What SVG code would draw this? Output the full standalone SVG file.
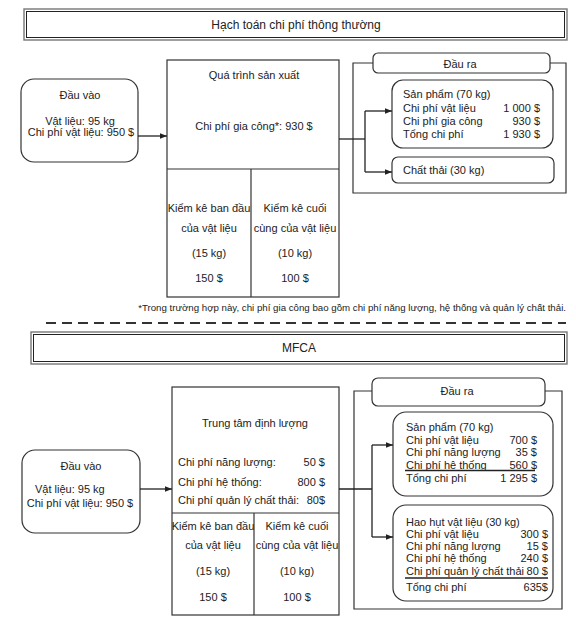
<svg xmlns="http://www.w3.org/2000/svg" width="576" height="626" viewBox="0 0 576 626">
<style>
text{font-family:"Liberation Sans",Arial,sans-serif;font-size:11px;fill:#222}
.c{text-anchor:middle}
.e{text-anchor:end}
.t{font-size:12px}
.fn{font-size:9.7px}
.box{fill:none;stroke:#333;stroke-width:1.2}
.outer{fill:none;stroke:#777;stroke-width:1.4}
.inner{fill:none;stroke:#222;stroke-width:1}
.ln{fill:none;stroke:#222;stroke-width:1.3}
</style>
<defs>
<marker id="ar" viewBox="0 0 10 10" refX="10" refY="5" markerWidth="7" markerHeight="7" markerUnits="userSpaceOnUse" orient="auto">
<path d="M0,1 L10,5 L0,9 z" fill="#222"/>
</marker>
</defs>
<rect width="576" height="626" fill="#fff"/>

<g id="title-conventional">
<rect class="outer" x="24" y="9" width="543" height="31"/>
<rect class="inner" x="26.5" y="11.5" width="538" height="26"/>
<text class="c t" x="296" y="29">Hạch toán chi phí thông thường</text>
</g>

<g id="input-top">
<rect class="box" x="21" y="79" width="117" height="83" rx="13"/>
<text class="c" x="80" y="99">Đầu vào</text>
<text class="c" x="80" y="125">Vật liệu: 95 kg</text>
<text class="c" x="81" y="136">Chi phí vật liệu: 950 $</text>
</g>

<g id="process-top">
<rect class="box" x="167" y="60" width="172" height="237"/>
<line class="box" x1="167" y1="169" x2="339" y2="169"/>
<line class="box" x1="251" y1="169" x2="251" y2="297"/>
<text class="c" x="254" y="79">Quá trình sản xuất</text>
<text class="c" x="254" y="130">Chi phí gia công*: 930 $</text>
<text class="c" x="209" y="212">Kiểm kê ban đầu</text>
<text class="c" x="209" y="232">của vật liệu</text>
<text class="c" x="209" y="257">(15 kg)</text>
<text class="c" x="209" y="282">150 $</text>
<text class="c" x="295" y="212">Kiểm kê cuối</text>
<text class="c" x="295" y="232">cùng của vật liệu</text>
<text class="c" x="295" y="257">(10 kg)</text>
<text class="c" x="295" y="282">100 $</text>
</g>

<g id="output-top">
<path class="box" d="M373,63 H353 V193 H566 V63 H550"/>
<rect class="box" x="373" y="53" width="177" height="20" rx="5"/>
<text class="c" x="460" y="68">Đầu ra</text>
</g>

<g id="product-top">
<rect class="box" x="392" y="80" width="161" height="68" rx="11"/>
<text x="403" y="98">Sản phẩm (70 kg)</text>
<text x="403" y="112">Chi phí vật liệu</text>
<text x="403" y="125">Chi phí gia công</text>
<text x="403" y="138">Tổng chi phí</text>
<text class="e" x="540" y="112">1 000 $</text>
<text class="e" x="540" y="125">930 $</text>
<text class="e" x="540" y="138">1 930 $</text>
</g>

<g id="waste-top">
<rect class="box" x="392" y="157" width="162" height="26" rx="6"/>
<text x="403" y="174">Chất thải (30 kg)</text>
</g>

<text id="footnote" class="e fn" x="566" y="311">*Trong trường hợp này, chi phí gia công bao gồm chi phí năng lượng, hệ thống và quản lý chất thải.</text>
<line id="separator" x1="46" y1="323" x2="566" y2="323" stroke="#333" stroke-width="2" stroke-dasharray="10,6"/>

<g id="title-mfca">
<rect class="outer" x="31" y="332" width="536" height="32"/>
<rect class="inner" x="33.5" y="334.5" width="531" height="27"/>
<text class="c t" x="299" y="352">MFCA</text>
</g>

<g id="input-bottom">
<rect class="box" x="22" y="450" width="118" height="83" rx="13"/>
<text class="c" x="81" y="470">Đầu vào</text>
<text x="35" y="493">Vật liệu: 95 kg</text>
<text class="c" x="80" y="507">Chi phí vật liệu: 950 $</text>
</g>

<g id="quantity-center">
<rect class="box" x="172" y="387" width="167" height="228"/>
<line class="box" x1="172" y1="513" x2="339" y2="513"/>
<line class="box" x1="254" y1="513" x2="254" y2="615"/>
<text class="c" x="255" y="427">Trung tâm định lượng</text>
<text x="178" y="466">Chi phí năng lượng:</text>
<text x="178" y="486">Chi phí hệ thống:</text>
<text x="178" y="504">Chi phí quản lý chất thải:</text>
<text class="e" x="325" y="466">50 $</text>
<text class="e" x="325" y="486">800 $</text>
<text class="e" x="325" y="504">80$</text>
<text class="c" x="213" y="530">Kiểm kê ban đầu</text>
<text class="c" x="213" y="549">của vật liệu</text>
<text class="c" x="213" y="575">(15 kg)</text>
<text class="c" x="213" y="601">150 $</text>
<text class="c" x="297" y="530">Kiểm kê cuối</text>
<text class="c" x="297" y="549">cùng của vật liệu</text>
<text class="c" x="297" y="575">(10 kg)</text>
<text class="c" x="297" y="601">100 $</text>
</g>

<g id="output-bottom">
<path class="box" d="M372,391 H354 V609 H562 V391 H545"/>
<rect class="box" x="372" y="378" width="173" height="28" rx="6"/>
<text class="c" x="457" y="395">Đầu ra</text>
</g>

<g id="product-bottom">
<rect class="box" x="393" y="412" width="160" height="84" rx="13"/>
<text x="406" y="431">Sản phẩm (70 kg)</text>
<text x="406" y="443.5">Chi phí vật liệu</text>
<text x="406" y="456">Chi phí năng lượng</text>
<text x="406" y="468.5">Chi phí hệ thống</text>
<text x="406" y="482">Tổng chi phí</text>
<text class="e" x="537" y="443.5">700 $</text>
<text class="e" x="537" y="456">35 $</text>
<text class="e" x="537" y="468.5">560 $</text>
<text class="e" x="537" y="482">1 295 $</text>
<line class="ln" x1="405" y1="470.5" x2="535" y2="470.5"/>
</g>

<g id="loss-bottom">
<rect class="box" x="393" y="505" width="160" height="96" rx="13"/>
<text x="406" y="526">Hao hụt vật liệu (30 kg)</text>
<text x="406" y="538">Chi phí vật liệu</text>
<text x="406" y="550">Chi phí năng lượng</text>
<text x="406" y="562">Chi phí hệ thống</text>
<text x="406" y="575">Chi phí quản lý chất thải</text>
<text x="406" y="591">Tổng chi phí</text>
<text class="e" x="548" y="538">300 $</text>
<text class="e" x="548" y="550">15 $</text>
<text class="e" x="548" y="562">240 $</text>
<text class="e" x="548" y="575">80 $</text>
<text class="e" x="548" y="591">635$</text>
<line class="ln" x1="405" y1="578" x2="548" y2="578"/>
</g>

<g id="connectors">
<line class="ln" x1="138" y1="136" x2="167" y2="136" marker-end="url(#ar)"/>
<line class="ln" x1="339" y1="139" x2="365" y2="139"/>
<line class="ln" x1="365" y1="111" x2="365" y2="172"/>
<line class="ln" x1="365" y1="111" x2="392" y2="111" marker-end="url(#ar)"/>
<line class="ln" x1="365" y1="172" x2="392" y2="172" marker-end="url(#ar)"/>
<line class="ln" x1="140" y1="489" x2="172" y2="489" marker-end="url(#ar)"/>
<line class="ln" x1="339" y1="489" x2="372" y2="489"/>
<line class="ln" x1="372" y1="445" x2="372" y2="537"/>
<line class="ln" x1="372" y1="445" x2="393" y2="445" marker-end="url(#ar)"/>
<line class="ln" x1="372" y1="537" x2="393" y2="537" marker-end="url(#ar)"/>
</g>
</svg>
